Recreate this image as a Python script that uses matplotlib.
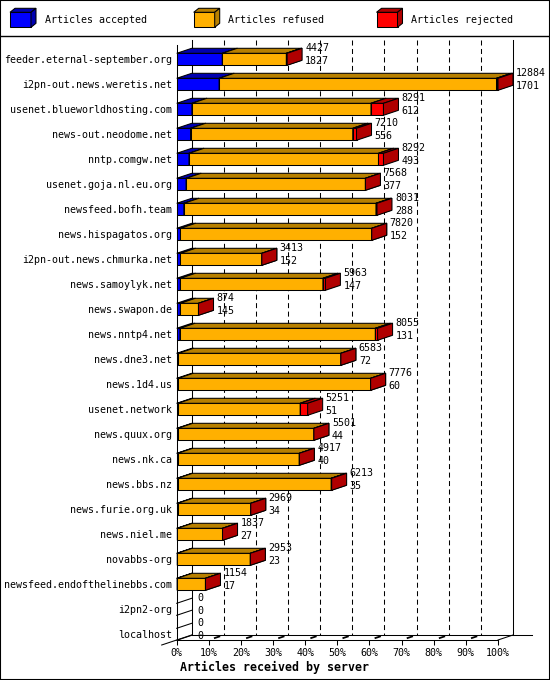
import matplotlib
matplotlib.use("Agg")
import matplotlib.pyplot as plt
from matplotlib.patches import Polygon, Rectangle
from matplotlib.lines import Line2D

# dati (articoli per server)
servers = ["feeder.eternal-september.org", "i2pn-out.news.weretis.net",
           "usenet.blueworldhosting.com", "news-out.neodome.net", "nntp.comgw.net",
           "usenet.goja.nl.eu.org", "newsfeed.bofh.team", "news.hispagatos.org",
           "i2pn-out.news.chmurka.net", "news.samoylyk.net", "news.swapon.de",
           "news.nntp4.net", "news.dne3.net", "news.1d4.us", "usenet.network",
           "news.quux.org", "news.nk.ca", "news.bbs.nz", "news.furie.org.uk",
           "news.niel.me", "novabbs-org", "newsfeed.endofthelinebbs.com",
           "i2pn2-org", "localhost"]
totals = [4427, 12884, 8291, 7210, 8292, 7568, 8031, 7820, 3413, 5963, 874, 8055,
          6583, 7776, 5251, 5501, 4917, 6213, 2969, 1837, 2953, 1154, 0, 0]
accepted = [1827, 1701, 612, 556, 493, 377, 288, 152, 152, 147, 145, 131,
            72, 60, 51, 44, 40, 35, 34, 27, 23, 17, 0, 0]
refused = [2570, 11123, 7179, 6504, 7599, 7191, 7703, 7668, 3261, 5716, 729, 7834,
           6511, 7716, 4900, 5457, 4877, 6158, 2935, 1810, 2930, 1137, 0, 0]
rejected = [30, 60, 500, 150, 200, 0, 40, 0, 0, 100, 0, 90,
            0, 0, 300, 0, 0, 20, 0, 0, 0, 0, 0, 0]
serie = ["Articles accepted", "Articles refused", "Articles rejected"]
colori = ["#0000ff", "#ffb000", "#ff0000"]
scuri = ["#0000b0", "#b88000", "#b00000"]
tick_lab = ["%d%%" % (10 * k) for k in range(11)]

plt.rcParams["font.family"] = "DejaVu Sans Mono"
plt.rcParams["lines.scale_dashes"] = False

W, H = 550, 680
fig = plt.figure(figsize=(5.5, 6.8), dpi=100)

# piano frontale del grafico, in pixel
x0p, x1p = 176.7, 498.0
y0p, y1p = 45.0, 640.0
ax = fig.add_axes([x0p / W, 1 - y1p / H, (x1p - x0p) / W, (y1p - y0p) / H])

n = len(servers)
xmax = max(totals)
ytop = -(59.3 - y0p) / 25.0
ybot = ytop + (y1p - y0p) / 25.0
ax.set_xlim(0, xmax)
ax.set_ylim(ybot, ytop)

# conversione pixel -> unita' dati per l'effetto 3D
px = xmax / (x1p - x0p)
py = (ybot - ytop) / (y1p - y0p)
ddx = 15 * px
ddy = -5 * py
hh = 6 * py


def scatola(xa, xb, yc, col, scuro):
    yt, yb = yc - hh, yc + hh
    kw = dict(closed=True, ec="black", lw=0.75, clip_on=False, zorder=3)
    ax.add_patch(Polygon([(xa, yt), (xb, yt), (xb, yb), (xa, yb)], fc=col, **kw))
    ax.add_patch(Polygon([(xa, yt), (xb, yt), (xb + ddx, yt + ddy), (xa + ddx, yt + ddy)],
                         fc=scuro, **kw))
    ax.add_patch(Polygon([(xb, yt), (xb + ddx, yt + ddy), (xb + ddx, yb + ddy), (xb, yb)],
                         fc=scuro, **kw))


# griglia tratteggiata sul piano di fondo
for k in range(1, 10):
    xk = xmax * k / 10 + ddx
    ax.plot([xk, xk], [ytop + ddy, ybot + ddy], color="black", lw=0.75,
            dashes=(3.6, 2.5), clip_on=False, zorder=1)
    # tacca obliqua sul pavimento
    xf = xmax * k / 10
    ax.plot([xf + 0.4 * ddx, xf + 0.7 * ddx], [ybot + 0.4 * ddy, ybot + 0.7 * ddy],
            color="black", lw=1.3, clip_on=False, zorder=1)

# pareti e pavimento
lk = dict(color="black", lw=0.75, clip_on=False, zorder=1)
ax.plot([ddx, ddx], [ytop + ddy, ybot + ddy], **lk)
ax.plot([xmax + ddx, xmax + ddx], [ytop + ddy, ybot + ddy], **lk)
ax.plot([ddx, xmax + ddx + 19 * px], [ybot + ddy, ybot + ddy], **lk)
ax.plot([-ddx, ddx], [ybot - ddy, ybot + ddy], **lk)
ax.plot([xmax, xmax + ddx], [ybot, ybot + ddy], **lk)

# barre cumulate
for i in range(n):
    if totals[i] == 0:
        for yy in (i - hh, i + hh):
            ax.plot([0, ddx], [yy, yy + ddy], color="black", lw=0.75, clip_on=False, zorder=3)
        xt = 21 * px
    else:
        a = accepted[i]
        r = accepted[i] + refused[i]
        t = r + rejected[i]
        scatola(0, a, i, colori[0], scuri[0])
        scatola(a, r, i, colori[1], scuri[1])
        scatola(r, t, i, colori[2], scuri[2])
        xt = t + 18 * px
    ax.text(xt, i - 11 * py, str(totals[i]), fontsize=7.2, ha="left", va="center",
            clip_on=False)
    ax.text(xt, i + 1.7 * py, str(accepted[i]), fontsize=7.2, ha="left", va="center",
            clip_on=False)

ax.spines["top"].set_visible(False)
ax.spines["right"].set_visible(False)
ax.spines["left"].set_linewidth(0.75)
ax.spines["bottom"].set_linewidth(0.75)
ax.set_xticks([xmax * k / 10 for k in range(11)])
ax.set_xticklabels(tick_lab)
ax.set_yticks(range(n))
ax.set_yticklabels(servers)
ax.tick_params(axis="x", length=3.6, width=0.75, pad=2, labelsize=7.2)
ax.tick_params(axis="y", length=0, pad=3.4, labelsize=7.2)
ax.patch.set_visible(False)

fig.text(274 / W, 1 - 667 / H, "Articles received by server", ha="center", va="center",
         fontsize=8.4, weight="bold")

# legenda in alto
lax = fig.add_axes([0, 1 - 35 / H, 1, 35 / H])
lax.set_xlim(0, W)
lax.set_ylim(35, 0)
lax.axis("off")
for nome, col, scuro, xb, xtx in zip(serie, colori, scuri, [10, 193.7, 376.5], [45, 228, 411]):
    kw = dict(closed=True, ec="black", lw=0.75)
    lax.add_patch(Polygon([(xb, 12.3), (xb + 21, 12.3), (xb + 21, 27.3), (xb, 27.3)], fc=col, **kw))
    lax.add_patch(Polygon([(xb, 12.3), (xb + 21, 12.3), (xb + 26, 8.3), (xb + 5, 8.3)], fc=scuro, **kw))
    lax.add_patch(Polygon([(xb + 21, 12.3), (xb + 26, 8.3), (xb + 26, 23.3), (xb + 21, 27.3)],
                          fc=scuro, **kw))
    lax.text(xtx, 20, nome, fontsize=7.2, ha="left", va="center")

# cornice e separatore
fig.add_artist(Rectangle((0, 0), 1, 1, transform=fig.transFigure, fill=False,
                         ec="black", lw=1.5))
fig.add_artist(Line2D([0, 1], [1 - 35.5 / H] * 2, transform=fig.transFigure,
                      color="black", lw=1))

fig.savefig("out.png", dpi=100)
